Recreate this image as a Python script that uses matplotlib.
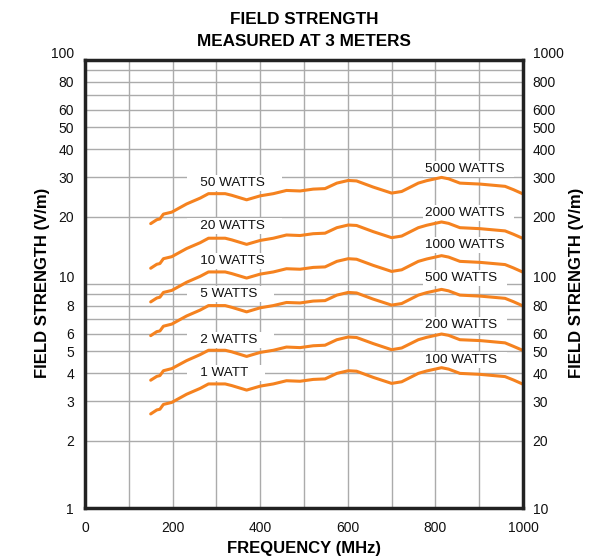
import matplotlib
matplotlib.use("Agg")
import matplotlib.pyplot as plt
from matplotlib.ticker import FixedLocator, FixedFormatter, NullLocator
from matplotlib.transforms import ScaledTranslation

plt.rcParams['font.family'] = ['Liberation Sans', 'DejaVu Sans']

freq = [150, 164, 171, 179, 198, 232, 263, 282, 320, 335, 369, 400, 430, 460, 491, 521,
        548, 575, 601, 620, 658, 700, 723, 761, 780, 814, 830, 856, 902, 959, 978, 1000]

field_1w = [2.63, 2.74, 2.76, 2.90, 2.96, 3.22, 3.42, 3.58, 3.58, 3.52, 3.36, 3.50, 3.58, 3.70, 3.68, 3.75,
            3.77, 3.99, 4.10, 4.08, 3.83, 3.60, 3.66, 3.99, 4.09, 4.23, 4.17, 3.99, 3.95, 3.86, 3.73, 3.57]
field_2w = [3.72, 3.87, 3.90, 4.10, 4.19, 4.55, 4.84, 5.06, 5.06, 4.98, 4.75, 4.95, 5.06, 5.23, 5.20, 5.30,
            5.33, 5.64, 5.80, 5.77, 5.42, 5.09, 5.18, 5.64, 5.78, 5.98, 5.90, 5.64, 5.59, 5.46, 5.27, 5.05]
field_5w = [5.88, 6.13, 6.17, 6.48, 6.62, 7.20, 7.65, 8.01, 8.01, 7.87, 7.51, 7.83, 8.01, 8.27, 8.23, 8.39,
            8.43, 8.92, 9.17, 9.12, 8.56, 8.05, 8.18, 8.92, 9.15, 9.46, 9.32, 8.92, 8.83, 8.63, 8.34, 7.98]
field_10w = [8.32, 8.66, 8.73, 9.17, 9.36, 10.18, 10.82, 11.32, 11.32, 11.13, 10.63, 11.07, 11.32, 11.70, 11.64, 11.86,
             11.92, 12.62, 12.97, 12.90, 12.11, 11.38, 11.57, 12.62, 12.93, 13.38, 13.19, 12.62, 12.49, 12.21, 11.80, 11.29]
field_20w = [11.76, 12.25, 12.34, 12.97, 13.24, 14.40, 15.29, 16.01, 16.01, 15.74, 15.03, 15.65, 16.01, 16.55, 16.46, 16.77,
             16.86, 17.84, 18.34, 18.25, 17.13, 16.10, 16.37, 17.84, 18.29, 18.92, 18.65, 17.84, 17.66, 17.26, 16.68, 15.97]
field_50w = [18.60, 19.37, 19.52, 20.51, 20.93, 22.77, 24.18, 25.31, 25.31, 24.89, 23.76, 24.75, 25.31, 26.16, 26.02, 26.52,
             26.66, 28.21, 28.99, 28.85, 27.08, 25.46, 25.88, 28.21, 28.92, 29.91, 29.49, 28.21, 27.93, 27.29, 26.38, 25.24]

series = [field_1w, field_2w, field_5w, field_10w, field_20w, field_50w]

left_labels = ["1 WATT", "2 WATTS", "5 WATTS", "10 WATTS", "20 WATTS", "50 WATTS"]
left_label_y = [3.99, 5.62, 9.02, 12.7, 18.2, 28.2]
right_labels = ["100 WATTS", "200 WATTS", "500 WATTS", "1000 WATTS", "2000 WATTS", "5000 WATTS"]
right_label_y = [4.58, 6.56, 10.6, 14.9, 20.7, 32.6]

left_ticks = [1, 2, 3, 4, 5, 6, 7, 8, 9, 10, 20, 30, 40, 50, 60, 70, 80, 90, 100]
left_ticklabels = ["1", "2", "3", "4", "5", "6", "", "8", "", "10", "20", "30", "40", "50", "60", "", "80", "", "100"]
right_ticks = [10, 20, 30, 40, 50, 60, 80, 100, 200, 300, 400, 500, 600, 800, 1000]
right_ticklabels = ["10", "20", "30", "40", "50", "60", "80", "100", "200", "300", "400", "500", "600", "800", "1000"]
x_ticks = [0, 200, 400, 600, 800, 1000]
x_grid = [100, 200, 300, 400, 500, 600, 700, 800, 900]

fig = plt.figure(figsize=(6.08, 5.57), dpi=100)
ax = fig.add_axes([85/608, 1-508/557, 438/608, 448/557])

ax.set_yscale('log')
ax.set_xlim(0, 1000)
ax.set_ylim(1, 100)

for xv in x_grid:
    ax.axvline(xv, color='#ababab', lw=1.0, zorder=1)
for yv in left_ticks[1:-1]:
    ax.axhline(yv, color='#ababab', lw=1.0, zorder=1)

for s in series:
    ax.plot(freq, s, color='#f5821f', lw=2.2, zorder=3, solid_capstyle='round')

box = dict(facecolor='white', edgecolor='none', pad=1.5)
for lab, yv in zip(left_labels, left_label_y):
    ax.text(237, yv, "   " + lab + "    ", fontsize=9.7, ha='left', va='center', bbox=box, zorder=2, color='#111')
for lab, yv in zip(right_labels, right_label_y):
    ax.text(777, yv, lab + "  ", fontsize=9.7, ha='left', va='center', bbox=box, zorder=2, color='#111')

ax.yaxis.set_major_locator(FixedLocator(left_ticks))
ax.yaxis.set_major_formatter(FixedFormatter(left_ticklabels))
ax.yaxis.set_minor_locator(NullLocator())
ax.set_xticks(x_ticks)
ax.set_xticklabels([str(v) for v in x_ticks])
ax.tick_params(axis='both', length=0, labelsize=10, colors='#111')
ax.tick_params(axis='y', pad=8)
ax.tick_params(axis='x', pad=9)

for sp in ax.spines.values():
    sp.set_linewidth(2.5)
    sp.set_color('#222222')
    sp.set_zorder(5)

ax2 = ax.twinx()
ax2.set_yscale('log')
ax2.set_ylim(10, 1000)
ax2.yaxis.set_major_locator(FixedLocator(right_ticks))
ax2.yaxis.set_major_formatter(FixedFormatter(right_ticklabels))
ax2.yaxis.set_minor_locator(NullLocator())
ax2.tick_params(axis='y', length=0, labelsize=10, pad=7, colors='#111')
for sp in ax2.spines.values():
    sp.set_visible(False)

# the decade labels sit a little above their grid lines in the reference
up = ScaledTranslation(0, 7/100, fig.dpi_scale_trans)
fig.canvas.draw()
for lbl in ax.get_yticklabels():
    if lbl.get_text() in ("10", "100"):
        lbl.set_transform(lbl.get_transform() + up)
for lbl in ax2.get_yticklabels():
    if lbl.get_text() in ("100", "1000"):
        lbl.set_transform(lbl.get_transform() + up)

ax.set_xlabel("FREQUENCY (MHz)", fontsize=12, fontweight='bold', labelpad=5)
fig.text(42/608, 1-283/557, "FIELD STRENGTH (V/m)", rotation=90, fontsize=12, fontweight='bold',
         ha='center', va='center')
fig.text(577/608, 1-283/557, "FIELD STRENGTH (V/m)", rotation=90, fontsize=12, fontweight='bold',
         ha='center', va='center')

fig.text(304/608, 1-20/557, "FIELD STRENGTH", fontsize=12.3, fontweight='bold', ha='center', va='center')
fig.text(304/608, 1-42/557, "MEASURED AT 3 METERS", fontsize=12.3, fontweight='bold', ha='center', va='center')

fig.savefig("out.png", dpi=100)
